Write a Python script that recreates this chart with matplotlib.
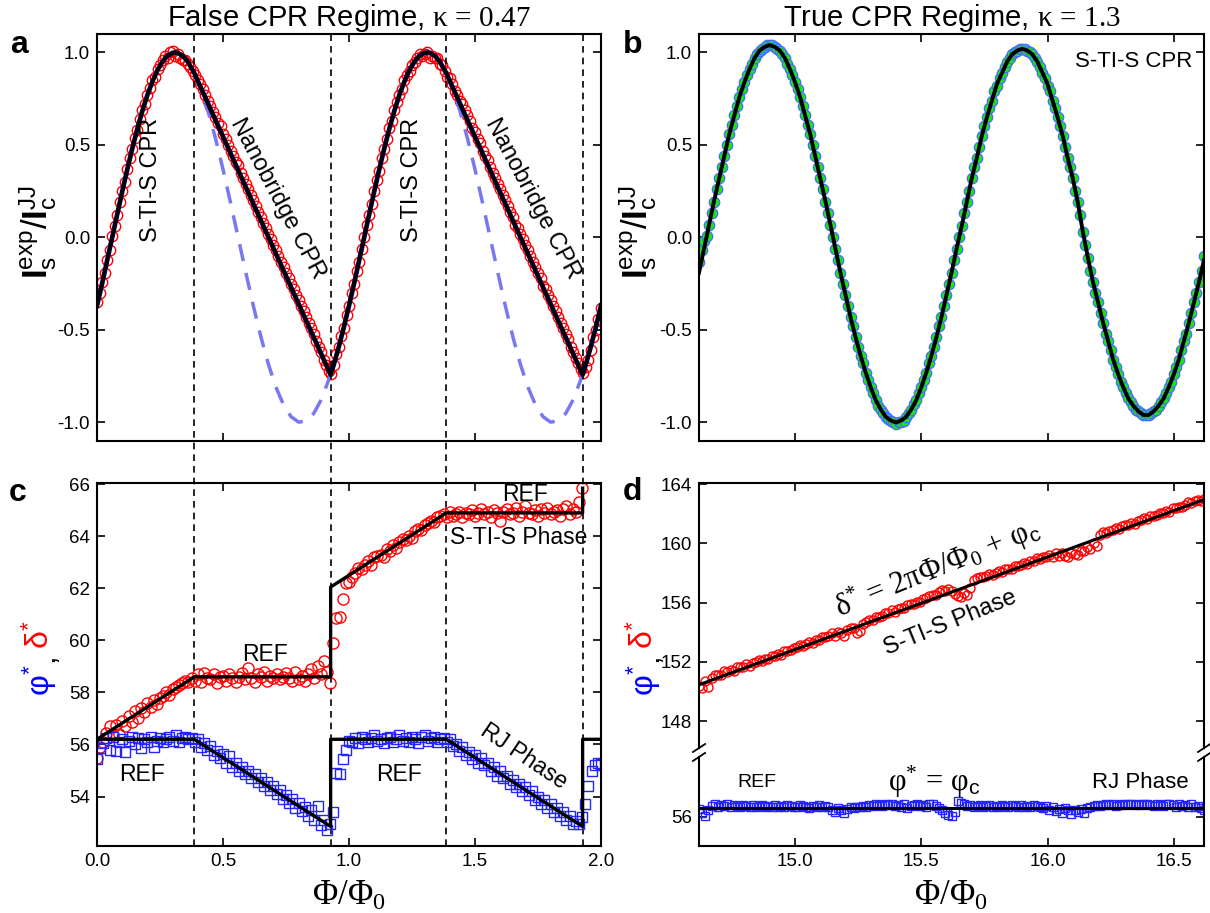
import numpy as np
import matplotlib
matplotlib.use('Agg')
import matplotlib.pyplot as plt
from matplotlib.ticker import FormatStrFormatter
from matplotlib.transforms import blended_transform_factory

# ---- fonts ----
plt.rcParams['font.family'] = ['Liberation Sans', 'DejaVu Sans']
plt.rcParams['mathtext.fontset'] = 'custom'
plt.rcParams['mathtext.rm'] = 'Liberation Serif'
plt.rcParams['mathtext.it'] = 'Liberation Serif:italic'
plt.rcParams['mathtext.bf'] = 'Liberation Sans:bold'
plt.rcParams['mathtext.sf'] = 'Liberation Sans'
plt.rcParams['axes.unicode_minus'] = False

# ================= data =================
# (a) false CPR regime, flux 0..2, step 0.01
flux_a = np.linspace(0, 2, 201)
is_a = [-0.35, -0.30, -0.24, -0.19, -0.12, -0.07, 0.01, 0.06, 0.12, 0.19,
        0.25, 0.30, 0.37, 0.43, 0.48, 0.54, 0.58, 0.64, 0.69, 0.72,
        0.77, 0.81, 0.85, 0.87, 0.91, 0.93, 0.96, 0.98, 0.97, 1.00,
        1.01, 0.98, 0.99, 0.97, 0.96, 0.96, 0.94, 0.92, 0.90,
        0.88, 0.85, 0.83, 0.80, 0.77, 0.74, 0.71, 0.68, 0.65, 0.62, 0.60,
        0.56, 0.53, 0.50, 0.47, 0.44, 0.41, 0.39, 0.35, 0.32, 0.29,
        0.26, 0.23, 0.20, 0.17, 0.14, 0.11, 0.08, 0.05, 0.02, -0.01,
        -0.04, -0.07, -0.10, -0.13, -0.16, -0.19, -0.22, -0.25, -0.28, -0.31,
        -0.34, -0.37, -0.40, -0.43, -0.46, -0.49, -0.52, -0.56, -0.59, -0.62,
        -0.66, -0.69, -0.72, -0.74, -0.69, -0.63, -0.59, -0.53, -0.49, -0.42,
        -0.37, -0.30, -0.25, -0.18, -0.13, -0.06, 0.00, 0.07, 0.12, 0.18,
        0.25, 0.31, 0.36, 0.43, 0.48, 0.53, 0.59, 0.63, 0.69, 0.73,
        0.77, 0.80, 0.85, 0.88, 0.90, 0.93, 0.95, 0.97, 0.99, 0.98,
        0.99, 1.00, 0.97, 0.98, 0.97, 0.97, 0.94, 0.93, 0.90,
        0.87, 0.86, 0.83, 0.79, 0.77, 0.74, 0.72, 0.69, 0.66, 0.63, 0.59,
        0.57, 0.53, 0.51, 0.47, 0.44, 0.42, 0.38, 0.35, 0.32, 0.29,
        0.26, 0.23, 0.20, 0.17, 0.14, 0.11, 0.07, 0.05, 0.02, -0.01,
        -0.04, -0.07, -0.10, -0.13, -0.16, -0.19, -0.22, -0.26, -0.28, -0.31,
        -0.34, -0.37, -0.40, -0.43, -0.46, -0.49, -0.52, -0.55, -0.59, -0.62,
        -0.65, -0.68, -0.71, -0.73, -0.70, -0.66, -0.61, -0.54, -0.50, -0.44,
        -0.38]

fit_a_x = [0.00, 0.02, 0.04, 0.06, 0.08, 0.10, 0.12, 0.14, 0.16, 0.18, 0.20,
           0.22, 0.24, 0.26, 0.28, 0.30, 0.31, 0.32, 0.34, 0.36, 0.386,
           0.927, 0.94, 0.96, 0.98, 1.00, 1.02, 1.04, 1.06, 1.08, 1.10, 1.12,
           1.14, 1.16, 1.18, 1.20, 1.22, 1.24, 1.26, 1.28, 1.30, 1.31, 1.32,
           1.34, 1.36, 1.386, 1.927, 1.94, 1.96, 1.98, 2.00]
fit_a_y = [-0.368, -0.249, -0.125, 0.0, 0.125, 0.249, 0.368, 0.482, 0.588, 0.685, 0.771,
           0.844, 0.905, 0.951, 0.982, 0.998, 1.0, 0.998, 0.982, 0.951, 0.888,
           -0.742, -0.685, -0.588, -0.482, -0.368, -0.249, -0.125, 0.0, 0.125, 0.249, 0.368,
           0.482, 0.588, 0.685, 0.771, 0.844, 0.905, 0.951, 0.982, 0.998, 1.0, 0.998,
           0.982, 0.951, 0.888, -0.742, -0.685, -0.588, -0.482, -0.368]

# nanobridge (sinusoidal) branch, dashed
nb_x1 = [0.386, 0.41, 0.44, 0.47, 0.50, 0.53, 0.56, 0.59, 0.62, 0.65,
         0.68, 0.71, 0.74, 0.77, 0.80, 0.83, 0.86, 0.89, 0.927]
nb_x2 = [1.386, 1.41, 1.44, 1.47, 1.50, 1.53, 1.56, 1.59, 1.62, 1.65,
         1.68, 1.71, 1.74, 1.77, 1.80, 1.83, 1.86, 1.89, 1.927]
nb_y = [0.888, 0.809, 0.685, 0.536, 0.368, 0.187, 0.0, -0.187, -0.368, -0.536,
        -0.685, -0.809, -0.905, -0.969, -0.998, -0.992, -0.951, -0.876, -0.742]

region_bounds = [0.386, 0.927, 1.386, 1.927]

# (b) true CPR regime, flux 14.62..16.62, step 0.01
flux_b = np.linspace(14.62, 16.62, 201)
is_b = [-0.13, -0.07, -0.02,
        0.01, 0.07, 0.13, 0.19, 0.26, 0.32, 0.38, 0.44, 0.50, 0.56,
        0.61, 0.66, 0.71, 0.76, 0.80, 0.84, 0.88, 0.91, 0.94, 0.97,
        0.99, 1.01, 1.02, 1.03, 1.04, 1.04, 1.04, 1.03, 1.02, 1.01,
        0.99, 0.97, 0.94, 0.91, 0.88, 0.84, 0.80, 0.76, 0.71, 0.66,
        0.61, 0.56, 0.50, 0.44, 0.38, 0.32, 0.26, 0.19, 0.13, 0.07,
        0.00, -0.06, -0.12, -0.19, -0.25, -0.31, -0.37, -0.43, -0.48, -0.54,
        -0.59, -0.64, -0.68, -0.73, -0.77, -0.81, -0.84, -0.88, -0.91, -0.93,
        -0.95, -0.97, -0.98, -0.99, -1.00, -1.01, -1.00, -1.00, -0.99, -0.97,
        -0.95, -0.93, -0.90, -0.88, -0.84, -0.81, -0.77, -0.73, -0.68, -0.64,
        -0.59, -0.54, -0.48, -0.43, -0.37, -0.31, -0.25, -0.19, -0.12, -0.06,
        0.00, 0.06, 0.13, 0.19, 0.25, 0.32, 0.38, 0.43, 0.49, 0.55,
        0.60, 0.65, 0.70, 0.74, 0.79, 0.82, 0.86, 0.89, 0.92, 0.95,
        0.97, 0.99, 1.00, 1.01, 1.02, 1.02, 1.02, 1.01, 1.00, 0.99,
        0.97, 0.95, 0.92, 0.89, 0.86, 0.82, 0.79, 0.74, 0.70, 0.65,
        0.60, 0.55, 0.49, 0.43, 0.38, 0.32, 0.25, 0.19, 0.12, 0.03,
        -0.04, -0.11, -0.18, -0.24, -0.30, -0.35, -0.41, -0.46, -0.52, -0.56,
        -0.61, -0.66, -0.70, -0.74, -0.78, -0.81, -0.84, -0.87, -0.89, -0.91,
        -0.93, -0.94, -0.95, -0.96, -0.96, -0.96, -0.95, -0.94, -0.93, -0.91,
        -0.89, -0.87, -0.84, -0.81, -0.78, -0.74, -0.70, -0.66, -0.61, -0.56,
        -0.52, -0.46, -0.41, -0.35, -0.30, -0.24, -0.18, -0.10]

fit_b_x = np.linspace(14.62, 16.62, 101)
fit_b_y = [-0.19, -0.06, 0.07, 0.20, 0.32, 0.44, 0.56, 0.66, 0.76, 0.84,
           0.91, 0.97, 1.01, 1.03, 1.04, 1.03, 1.01, 0.97, 0.91, 0.84,
           0.76, 0.66, 0.56, 0.44, 0.32, 0.20, 0.07, -0.06, -0.19, -0.31,
           -0.43, -0.54, -0.64, -0.73, -0.81, -0.88, -0.93, -0.97, -0.99, -1.00,
           -0.99, -0.97, -0.93, -0.88, -0.81, -0.73, -0.64, -0.54, -0.43, -0.31,
           -0.19, -0.06, 0.06, 0.19, 0.32, 0.43, 0.55, 0.65, 0.74, 0.83,
           0.89, 0.95, 0.99, 1.01, 1.02, 1.01, 0.99, 0.95, 0.89, 0.83,
           0.74, 0.65, 0.55, 0.43, 0.32, 0.19, 0.03, -0.11, -0.24, -0.35,
           -0.46, -0.56, -0.66, -0.74, -0.81, -0.87, -0.91, -0.94, -0.96, -0.96,
           -0.94, -0.91, -0.87, -0.81, -0.74, -0.66, -0.56, -0.46, -0.35, -0.24,
           -0.12]

# (c) phases in the false regime, step 0.0125
flux_c_delta = np.linspace(0, 1.925, 155)
delta_c = [55.5, 55.9, 56.1, 56.45, 56.7, 56.35, 56.75, 56.4, 56.9, 56.7,
           57.1, 56.85, 57.3, 57.0, 57.4, 57.25, 57.6, 57.45, 57.7, 57.55,
           57.8, 57.85, 58.0, 57.9, 58.15, 58.2, 58.3, 58.35, 58.45, 58.4,
           58.55,
           58.45, 58.7, 58.4, 58.75, 58.55, 58.5, 58.7, 58.35, 58.6, 58.65,
           58.45, 58.7, 58.55, 58.4, 58.6, 58.75, 58.5, 58.95, 58.55, 58.4,
           58.7, 58.6, 58.8, 58.45, 58.65, 58.55, 58.7, 58.5, 58.6, 58.75,
           58.55, 58.45, 58.8, 58.5, 58.65, 58.45, 58.7, 58.9, 58.55, 59.0,
           58.7, 59.2, 58.8, 58.35,
           59.9, 60.85, 60.9, 61.6, 62.2, 62.25, 62.45, 62.6, 62.8, 62.75,
           62.9, 63.05, 62.9, 63.2, 63.25, 63.3, 63.2, 63.5, 63.45, 63.65,
           63.55, 63.8, 63.9, 63.85, 64.0, 63.95, 64.2, 64.3, 64.25, 64.45,
           64.5, 64.6, 64.55, 64.75, 64.8, 64.85,
           64.75, 64.95, 64.8, 64.85, 64.95, 64.75, 64.9, 64.85, 65.0, 64.8,
           64.9, 65.05, 64.85, 64.95, 64.75, 65.0, 64.9, 64.6, 64.95, 65.05,
           64.85, 64.9, 65.1, 64.8, 64.95, 65.15, 64.9, 64.85, 65.0, 64.8,
           65.05, 64.9, 65.1, 64.85, 64.95, 65.0, 64.8, 65.05, 65.15, 64.85,
           65.05, 64.95, 65.3, 65.85]

flux_c_phi = np.linspace(0, 2, 161)
phi_c = [55.45, 55.85, 56.05, 56.25, 55.8, 56.3, 55.75, 56.1, 56.2, 55.7,
         56.15, 56.3, 56.0, 56.25, 55.85, 56.2, 56.1, 56.3, 55.9, 56.15,
         56.25, 56.1, 56.2, 56.3, 56.15, 56.35, 56.1, 56.25, 56.3, 56.2,
         56.25,
         56.1, 56.2, 55.9, 56.05, 55.8, 55.95, 55.6, 55.75, 55.5, 55.65,
         55.3, 55.55, 55.15, 55.3, 55.0, 55.15, 54.85, 55.0, 54.7, 54.85,
         54.55, 54.7, 54.4, 54.55, 54.25, 54.4, 54.1, 54.25, 53.9, 54.05,
         53.75, 53.9, 53.55, 53.75, 53.45, 53.6, 53.25, 53.5, 53.1, 53.65,
         52.9, 53.1, 52.7, 52.95,
         53.4, 54.9, 54.85, 55.45, 55.8, 56.15,
         56.1, 56.25, 56.05, 56.3, 56.2, 56.1, 56.25, 56.35, 56.15, 56.2,
         56.05, 56.25, 56.3, 56.1, 56.2, 56.35, 56.15, 56.25, 56.1, 56.3,
         56.2, 56.05, 56.3, 56.35, 56.15, 56.25, 56.3, 56.1, 56.2, 56.25,
         56.1, 56.2, 55.95, 56.0, 55.75, 55.9, 55.6, 55.7, 55.45, 55.6,
         55.3, 55.5, 55.2, 55.3, 55.0, 55.15, 54.8, 55.0, 54.7, 54.8,
         54.5, 54.65, 54.35, 54.5, 54.2, 54.35, 54.05, 54.2, 53.85, 54.0,
         53.7, 53.85, 53.55, 53.7, 53.4, 53.55, 53.25, 53.4, 53.1, 53.25,
         52.95, 53.05, 52.95, 53.2,
         53.7, 54.4, 55.0, 55.2, 55.3, 55.25]

fit_delta_c_x = [0, 0.386, 0.927, 0.927, 1.386, 1.927, 1.927]
fit_delta_c_y = [56.2, 58.6, 58.6, 62.05, 64.9, 64.9, 65.85]
fit_phi_c_x = [0, 0.386, 0.927, 0.927, 1.386, 1.927, 1.927, 2.0]
fit_phi_c_y = [56.2, 56.2, 52.85, 56.2, 56.2, 52.85, 56.2, 56.2]

# (d) phases in the true regime, step 0.0125
flux_d = np.linspace(14.62, 16.62, 161)
delta_d = [150.40, 150.23, 150.71, 150.33, 150.91, 151.09, 151.12, 151.10, 151.38, 151.30,
           151.43, 151.41, 151.64, 151.62, 151.64, 151.82, 151.75, 151.93, 151.96, 152.13,
           152.06, 152.19, 152.17, 152.40, 152.38, 152.50, 152.48, 152.71, 152.74, 152.77,
           152.94, 152.97, 153.15, 153.08, 153.21, 153.33, 153.26, 153.44, 153.47, 153.65,
           153.68, 153.75, 153.93, 153.76, 153.99, 153.97, 153.74, 154.17, 154.30, 154.28,
           153.96, 154.08, 154.56, 154.69, 154.82, 154.80, 155.03, 155.05, 155.08, 155.26,
           155.29, 155.47, 155.39, 155.57, 155.60, 155.63, 155.81, 155.93, 155.91, 156.04,
           156.02, 156.25, 156.28, 156.45, 156.48, 156.51, 156.69, 156.82, 156.79, 156.92,
           156.80, 156.58, 156.41, 156.38, 156.61, 156.49, 156.97, 157.55, 157.68, 157.70,
           157.73, 157.76, 157.94, 157.87, 157.99, 158.12, 158.05, 158.23, 158.26, 158.28,
           158.46, 158.49, 158.52, 158.70, 158.63, 158.80, 158.83, 159.01, 158.94, 159.07,
           159.04, 159.22, 159.10, 159.33, 159.16, 159.33, 159.16, 159.09, 159.37, 159.30,
           159.23, 159.50, 159.48, 159.76, 159.59, 160.02, 159.79, 160.57, 160.75, 160.68,
           160.86, 160.88, 161.06, 160.94, 161.17, 161.20, 161.23, 161.40, 161.33, 161.51,
           161.54, 161.72, 161.64, 161.82, 161.85, 161.88, 162.06, 162.03, 162.16, 162.14,
           162.37, 162.35, 162.48, 162.45, 162.58, 162.76, 162.69, 162.87, 162.89, 162.87,
           163.00]
phi_d = [56.55, 56.3, 56.05, 56.45, 56.75, 56.85, 56.7, 56.8, 56.75, 56.85,
         56.7, 56.8, 56.75, 56.7, 56.8, 56.75, 56.7, 56.8, 56.7, 56.75,
         56.8, 56.7, 56.75, 56.7, 56.8, 56.65, 56.75, 56.7, 56.8, 56.75,
         56.7, 56.65, 56.8, 56.75, 56.7, 56.6, 56.75, 56.7, 56.8, 56.65,
         56.75, 56.7, 56.5, 56.35, 56.6, 56.45, 56.3, 56.55, 56.65, 56.6,
         56.7, 56.65, 56.75, 56.7, 56.8, 56.75, 56.85, 56.8, 56.75, 56.85,
         56.8, 56.85, 56.75, 56.8, 56.7, 56.85, 56.6, 56.75, 56.8, 56.9,
         56.75, 56.8, 56.7, 56.85, 56.9, 56.75, 56.6, 56.45, 56.3, 56.15,
         56.05, 56.35, 57.05, 56.95, 56.85, 56.75, 56.8, 56.7, 56.75, 56.8,
         56.7, 56.75, 56.8, 56.7, 56.75, 56.65, 56.8, 56.75, 56.7, 56.8,
         56.75, 56.7, 56.8, 56.65, 56.75, 56.7, 56.8, 56.75, 56.7, 56.6,
         56.75, 56.5, 56.65, 56.4, 56.55, 56.3, 56.6, 56.45, 56.2, 56.5,
         56.35, 56.55, 56.25, 56.6, 56.7, 56.75, 56.8, 56.75, 56.8, 56.85,
         56.8, 56.85, 56.75, 56.8, 56.85, 56.8, 56.9, 56.85, 56.8, 56.85,
         56.8, 56.9, 56.85, 56.8, 56.75, 56.85, 56.8, 56.75, 56.85, 56.9,
         56.8, 56.7, 56.85, 56.75, 56.8, 56.7, 56.85, 56.65, 56.75, 56.6,
         56.5]
fit_delta_d_x = [14.62, 16.62]
fit_delta_d_y = [150.45, 162.95]
fit_phi_d_x = [14.62, 16.62]
fit_phi_d_y = [56.6, 56.6]

# ================= figure =================
RED = '#ff0000'
BLUE = '#2424ff'

fig = plt.figure(figsize=(12.1, 9.13), dpi=100)
ax_a = fig.add_axes([0.0802, 0.5170, 0.4165, 0.4458])
ax_b = fig.add_axes([0.5777, 0.5170, 0.4174, 0.4458])
ax_c = fig.add_axes([0.0802, 0.0734, 0.4165, 0.3976])
ax_du = fig.add_axes([0.5777, 0.1807, 0.4174, 0.2903])
ax_dl = fig.add_axes([0.5777, 0.0734, 0.4174, 0.0975])


def style(ax):
    ax.tick_params(direction='in', length=6, width=1.2, top=True, right=True,
                   labelsize=13.5, pad=5)
    for s in ax.spines.values():
        s.set_linewidth(1.5)


for ax in (ax_a, ax_b, ax_c, ax_du, ax_dl):
    style(ax)

# ---- (a) ----
ax_a.plot(flux_a, is_a, 'o', ms=7.5, mfc='none', mec=RED, mew=1.0)
ax_a.plot(nb_x1, nb_y, color='#7878f0', lw=2.5, dashes=(5, 3.5))
ax_a.plot(nb_x2, nb_y, color='#7878f0', lw=2.5, dashes=(5, 3.5))
ax_a.plot(fit_a_x, fit_a_y, color='#000070', lw=3.4)
ax_a.plot(fit_a_x, fit_a_y, color='k', lw=2.4)
ax_a.set_xlim(0, 2)
ax_a.set_ylim(-1.1, 1.1)
ax_a.set_xticks([0, 0.5, 1.0, 1.5, 2.0])
ax_a.set_yticks([-1.0, -0.5, 0.0, 0.5, 1.0])
ax_a.yaxis.set_major_formatter(FormatStrFormatter('%.1f'))
ax_a.tick_params(labelbottom=False)
ax_a.set_title(r'False CPR Regime, $\mathrm{\kappa\,=\,0.47}$', fontsize=21, pad=6)
for xt in (0.215, 1.25):
    ax_a.text(xt, 0.31, 'S-TI-S CPR', rotation=90, fontsize=17,
              ha='center', va='center')
for xt in (0.715, 1.73):
    ax_a.text(xt, 0.21, 'Nanobridge CPR', rotation=-62, fontsize=17,
              ha='center', va='center', rotation_mode='anchor')

# ---- (b) ----
ax_b.plot(flux_b, is_b, 'o', ms=7.5, mfc='#19e619', mec='#4a6aff', mew=0.9)
ax_b.plot(fit_b_x, fit_b_y, color='k', lw=2.8)
ax_b.set_xlim(14.62, 16.62)
ax_b.set_ylim(-1.1, 1.1)
ax_b.set_xticks([15.0, 15.5, 16.0, 16.5])
ax_b.set_yticks([-1.0, -0.5, 0.0, 0.5, 1.0])
ax_b.yaxis.set_major_formatter(FormatStrFormatter('%.1f'))
ax_b.tick_params(labelbottom=False)
ax_b.set_title(r'True CPR Regime, $\mathrm{\kappa\,=\,1.3}$', fontsize=21, pad=6)
ax_b.text(16.575, 0.95, 'S-TI-S CPR', fontsize=16, ha='right', va='center')

# ---- (c) ----
ax_c.plot(flux_c_delta, delta_c, 'o', ms=8, mfc='none', mec=RED, mew=1.0)
ax_c.plot(flux_c_phi, phi_c, 's', ms=7, mfc='none', mec=BLUE, mew=1.0)
ax_c.plot(fit_delta_c_x, fit_delta_c_y, color='k', lw=2.4)
ax_c.plot(fit_phi_c_x, fit_phi_c_y, color='k', lw=2.4)
ax_c.set_xlim(0, 2)
ax_c.set_ylim(52.1, 66.05)
ax_c.set_xticks([0, 0.5, 1.0, 1.5, 2.0])
ax_c.xaxis.set_major_formatter(FormatStrFormatter('%.1f'))
ax_c.set_yticks([54, 56, 58, 60, 62, 64, 66])
ax_c.text(0.667, 59.45, 'REF', fontsize=16.5, ha='center', va='center')
ax_c.text(1.70, 65.6, 'REF', fontsize=16.5, ha='center', va='center')
ax_c.text(1.672, 63.97, 'S-TI-S Phase', fontsize=16.5, ha='center', va='center')
ax_c.text(0.18, 54.85, 'REF', fontsize=16.5, ha='center', va='center')
ax_c.text(1.20, 54.85, 'REF', fontsize=16.5, ha='center', va='center')
ax_c.text(1.695, 55.55, 'RJ Phase', fontsize=16.5, rotation=-34,
          ha='center', va='center', rotation_mode='anchor')

# dashed region boundaries through panels a and c
trans = blended_transform_factory(ax_c.transData, ax_c.transAxes)
top_of_a = (0.5170 + 0.4458 - 0.0734) / 0.3976
for xv in region_bounds:
    ax_c.plot([xv, xv], [0, top_of_a], transform=trans, color='k', lw=1.2,
              dashes=(4, 3), clip_on=False, zorder=1)

# ---- (d) broken axis ----
ax_du.plot(flux_d, delta_d, 'o', ms=6.5, mfc='none', mec=RED, mew=1.0)
ax_du.plot(fit_delta_d_x, fit_delta_d_y, color='k', lw=2.2)
ax_du.set_xlim(14.62, 16.62)
ax_du.set_ylim(146.18, 164.07)
ax_du.set_xticks([15.0, 15.5, 16.0, 16.5])
ax_du.set_yticks([148, 152, 156, 160, 164])
ax_du.spines['bottom'].set_visible(False)
ax_du.tick_params(bottom=False, labelbottom=False)
ax_du.text(15.564, 158.3,
           r'$\mathrm{\delta^{*}\,=\,2\pi\Phi/\Phi_{0}\,+\,\varphi_{\mathsf{c}}}$',
           fontsize=22, rotation=22, ha='center', va='center', rotation_mode='anchor')
ax_du.text(15.616, 154.6, 'S-TI-S Phase', fontsize=17, rotation=22,
           ha='center', va='center', rotation_mode='anchor')

ax_dl.plot(flux_d, phi_d, 's', ms=6, mfc='none', mec=BLUE, mew=1.0)
ax_dl.plot(fit_phi_d_x, fit_phi_d_y, color='k', lw=2.2)
ax_dl.set_xlim(14.62, 16.62)
ax_dl.set_ylim(54.04, 60.05)
ax_dl.set_xticks([15.0, 15.5, 16.0, 16.5])
ax_dl.xaxis.set_major_formatter(FormatStrFormatter('%.1f'))
ax_dl.set_yticks([56])
ax_dl.spines['top'].set_visible(False)
ax_dl.tick_params(top=False)
ax_dl.text(14.85, 58.3, 'REF', fontsize=14, ha='center', va='center')
ax_dl.text(15.55, 58.4, r'$\mathrm{\varphi^{*}\,=\,\varphi_{\mathsf{c}}}$', fontsize=22,
           ha='center', va='center')
ax_dl.text(16.56, 58.3, 'RJ Phase', fontsize=16, ha='right', va='center')

# break marks
kw = dict(color='k', lw=1.3, clip_on=False)
dx = 0.012
ax_du.plot([-dx, dx], [-0.015, 0.015], transform=ax_du.transAxes, **kw)
ax_du.plot([1 - dx, 1 + dx], [-0.015, 0.015], transform=ax_du.transAxes, **kw)
ax_dl.plot([-dx, dx], [1 - 0.045, 1 + 0.045], transform=ax_dl.transAxes, **kw)
ax_dl.plot([1 - dx, 1 + dx], [1 - 0.045, 1 + 0.045], transform=ax_dl.transAxes, **kw)

# ---- axis labels ----
ylab_is = r'$\mathbf{I}_{\mathsf{s}}^{\mathsf{exp}}\mathsf{/}\mathbf{I}_{\mathsf{c}}^{\mathsf{JJ}}$'
fig.text(38 / 1210, 1 - 232 / 913, ylab_is, rotation=90, fontsize=25,
         ha='center', va='center')
fig.text(638 / 1210, 1 - 232 / 913, ylab_is, rotation=90, fontsize=25,
         ha='center', va='center')

for xc in (40 / 1210, 644 / 1210):
    fig.text(xc, 1 - 680 / 913, r'$\mathsf{\varphi^{*}}$', color='#0000ff',
             rotation=90, fontsize=23, ha='center', va='center')
    fig.text(xc + 0.004, 1 - 658 / 913, ',', color='k', rotation=90, fontsize=22,
             ha='center', va='center')
    fig.text(xc, 1 - 635 / 913, r'$\mathsf{\delta^{*}}$', color=RED,
             rotation=90, fontsize=23, ha='center', va='center')

for xc in (349 / 1210, 951 / 1210):
    fig.text(xc, 1 - 895 / 913, r'$\mathrm{\Phi/\Phi_{0}}$', fontsize=25,
             ha='center', va='center')

# panel letters
for (px, py, s) in ((19, 45, 'a'), (633, 45, 'b'), (18, 493, 'c'), (632, 492, 'd')):
    fig.text(px / 1210, 1 - py / 913, s, fontsize=23, fontweight='bold',
             ha='center', va='center')

fig.savefig('out.png', dpi=100)
